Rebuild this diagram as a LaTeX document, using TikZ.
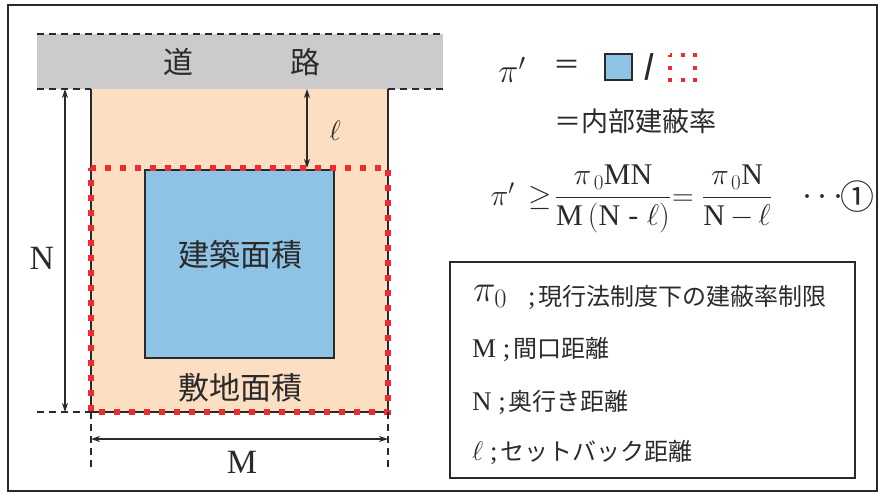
\RequirePackage{fix-cm}
\documentclass[tikz,border=0pt]{standalone}
\usepackage{fontspec}
\setmainfont{Liberation Serif}
\newfontfamily\jp{Noto Sans CJK JP}
\usetikzlibrary{arrows.meta}
\definecolor{roadc}{HTML}{CBCBCD}
\definecolor{sitec}{HTML}{FCDEC2}
\definecolor{bldgc}{HTML}{8EC3E6}
\definecolor{redc}{HTML}{EE2B2F}
\definecolor{txtc}{HTML}{2A2A2A}
\newcommand{\fs}[1]{\fontsize{#1}{#1}\selectfont}
\begin{document}
\begin{tikzpicture}[x=1pt,y=-1pt,
  dimline/.style={{Stealth[length=9pt,width=6pt]}-{Stealth[length=9pt,width=6pt]}, line width=1.3pt, draw=txtc},
  dashln/.style={draw=txtc, line width=1.3pt, dash pattern=on 7pt off 5pt},
  reddot/.style={draw=redc, line width=6pt, dash pattern=on 6pt off 9pt, dash phase=3pt},
  edge/.style={draw=txtc, line width=1.5pt},
  jlbl/.style={font=\jp\fs{30}, text=txtc, inner sep=0pt},
  rlbl/.style={font=\fs{34}, text=txtc, inner sep=0pt},
  mth/.style={font=\fs{30}, text=txtc, inner sep=0pt, anchor=base},
  leg/.style={anchor=west, font=\fs{27}, text=txtc, inner sep=0pt}
]
\useasboundingbox (0,0) rectangle (879,493);
% outer frame
\draw[line width=1.5pt, draw=txtc] (8,5) rectangle (877,491);

% road
\fill[roadc] (37,34) rectangle (443,89);
\coordinate (rtl) at (37,34); \coordinate (rtr) at (443,34);
\coordinate (rbl) at (37,89); \coordinate (rbr) at (443,89);
\coordinate (sbl) at (91,412); \coordinate (sbr) at (388,412);
\coordinate (stl) at (91,89); \coordinate (str) at (388,89);
\draw[dashln] (rtl) -- (rtr);
\draw[dashln] (rbl) -- (stl);
\draw[dashln] (str) -- (rbr);
\draw[draw=gray, line width=0.8pt] (stl) -- (str);
\node[jlbl] (road1) at (178,62) {道};
\node[jlbl] (road2) at (305,62) {路};

% site
\fill[sitec] (stl) rectangle (sbr);
\draw[edge] (stl) -- (sbl) -- (sbr) -- (str);
% building
\draw[edge, fill=bldgc] (145,170) rectangle (334,358);
\node[jlbl, font=\jp\fs{31}] (bldg) at (240,255) {建築面積};
% red dotted
\draw[reddot] (91,168) rectangle (388,412);
\node[jlbl, font=\jp\fs{31}] (site) at (240,388) {敷地面積};

% N dimension
\coordinate (nt) at (65,89); \coordinate (nb) at (65,412);
\draw[dimline] (nt) -- (nb);
\coordinate (dl) at (37,412);
\draw[dashln] (dl) -- (sbl);
\node[rlbl] (N) at (42,258) {N};

% l dimension
\coordinate (lt) at (307,89); \coordinate (lb) at (307,168);
\draw[dimline] (lt) -- (lb);
\node[rlbl, font=\fs{28}] (ell) at (335,131) {$\ell$};

% M dimension
\coordinate (ml) at (91,467); \coordinate (mr) at (388,467);
\draw[dashln] (sbl) -- (ml);
\draw[dashln] (sbr) -- (mr);
\coordinate (ma) at (91,439); \coordinate (mb) at (388,439);
\draw[dimline] (ma) -- (mb);
\node[rlbl] (M) at (242,462) {M};

% right formula 1
\node[rlbl, font=\fs{34}] (pip) at (512,70) {$\pi'$};
\node[jlbl, font=\jp\fs{27}] (eq1) at (567,67) {＝};
\draw[line width=1.3pt, draw=txtc, fill=bldgc] (605,54) rectangle (632,80);
\node[jlbl, font=\jp\bfseries\fs{27}] (slash) at (650,67) {/};
\draw[draw=redc, line width=4.5pt, dash pattern=on 4pt off 8.5pt, dash phase=2pt] (670,55) rectangle (695,80);
\node[jlbl, font=\jp\fs{27}] (rate) at (635,121) {＝内部建蔽率};

% formula 2
\node[mth] (fpi) at (521,205) {$\pi'\,\geq$};
\node[mth] (fr1) at (613,205) {$\displaystyle\frac{\pi_{\,0}\mathrm{MN}}{\mathrm{M}\left(\mathrm{N}\;\mbox{-}\;\ell\right)}$};
\node[mth] (feq) at (683,205) {$=$};
\node[mth] (fr2) at (737,205) {$\displaystyle\frac{\pi_{\,0}\mathrm{N}}{\mathrm{N}\,{-}\,\ell}$};
\node[mth, font=\fs{36}] (fdots) at (823,205) {$\cdots$};
\node[jlbl, font=\jp\fs{34}] (fone) at (857,197) {①};

% legend
\draw[line width=1.5pt, draw=txtc] (450,262) rectangle (855,478);
\node[leg, font=\fs{38}] (l1a) at (473,296) {$\pi_{0}$};
\node[leg] (l1) at (528,297) {;\hspace{3pt}{\jp\fs{24}現行法制度下の建蔽率制限}};
\node[leg] (l2) at (472,349) {M ;\hspace{3pt}{\jp\fs{24}間口距離}};
\node[leg] (l3) at (472,402) {N ;\hspace{3pt}{\jp\fs{24}奥行き距離}};
\node[leg] (l4) at (472,452) {$\ell$ ;\hspace{3pt}{\jp\fs{24}セットバック距離}};
\end{tikzpicture}
\end{document}
